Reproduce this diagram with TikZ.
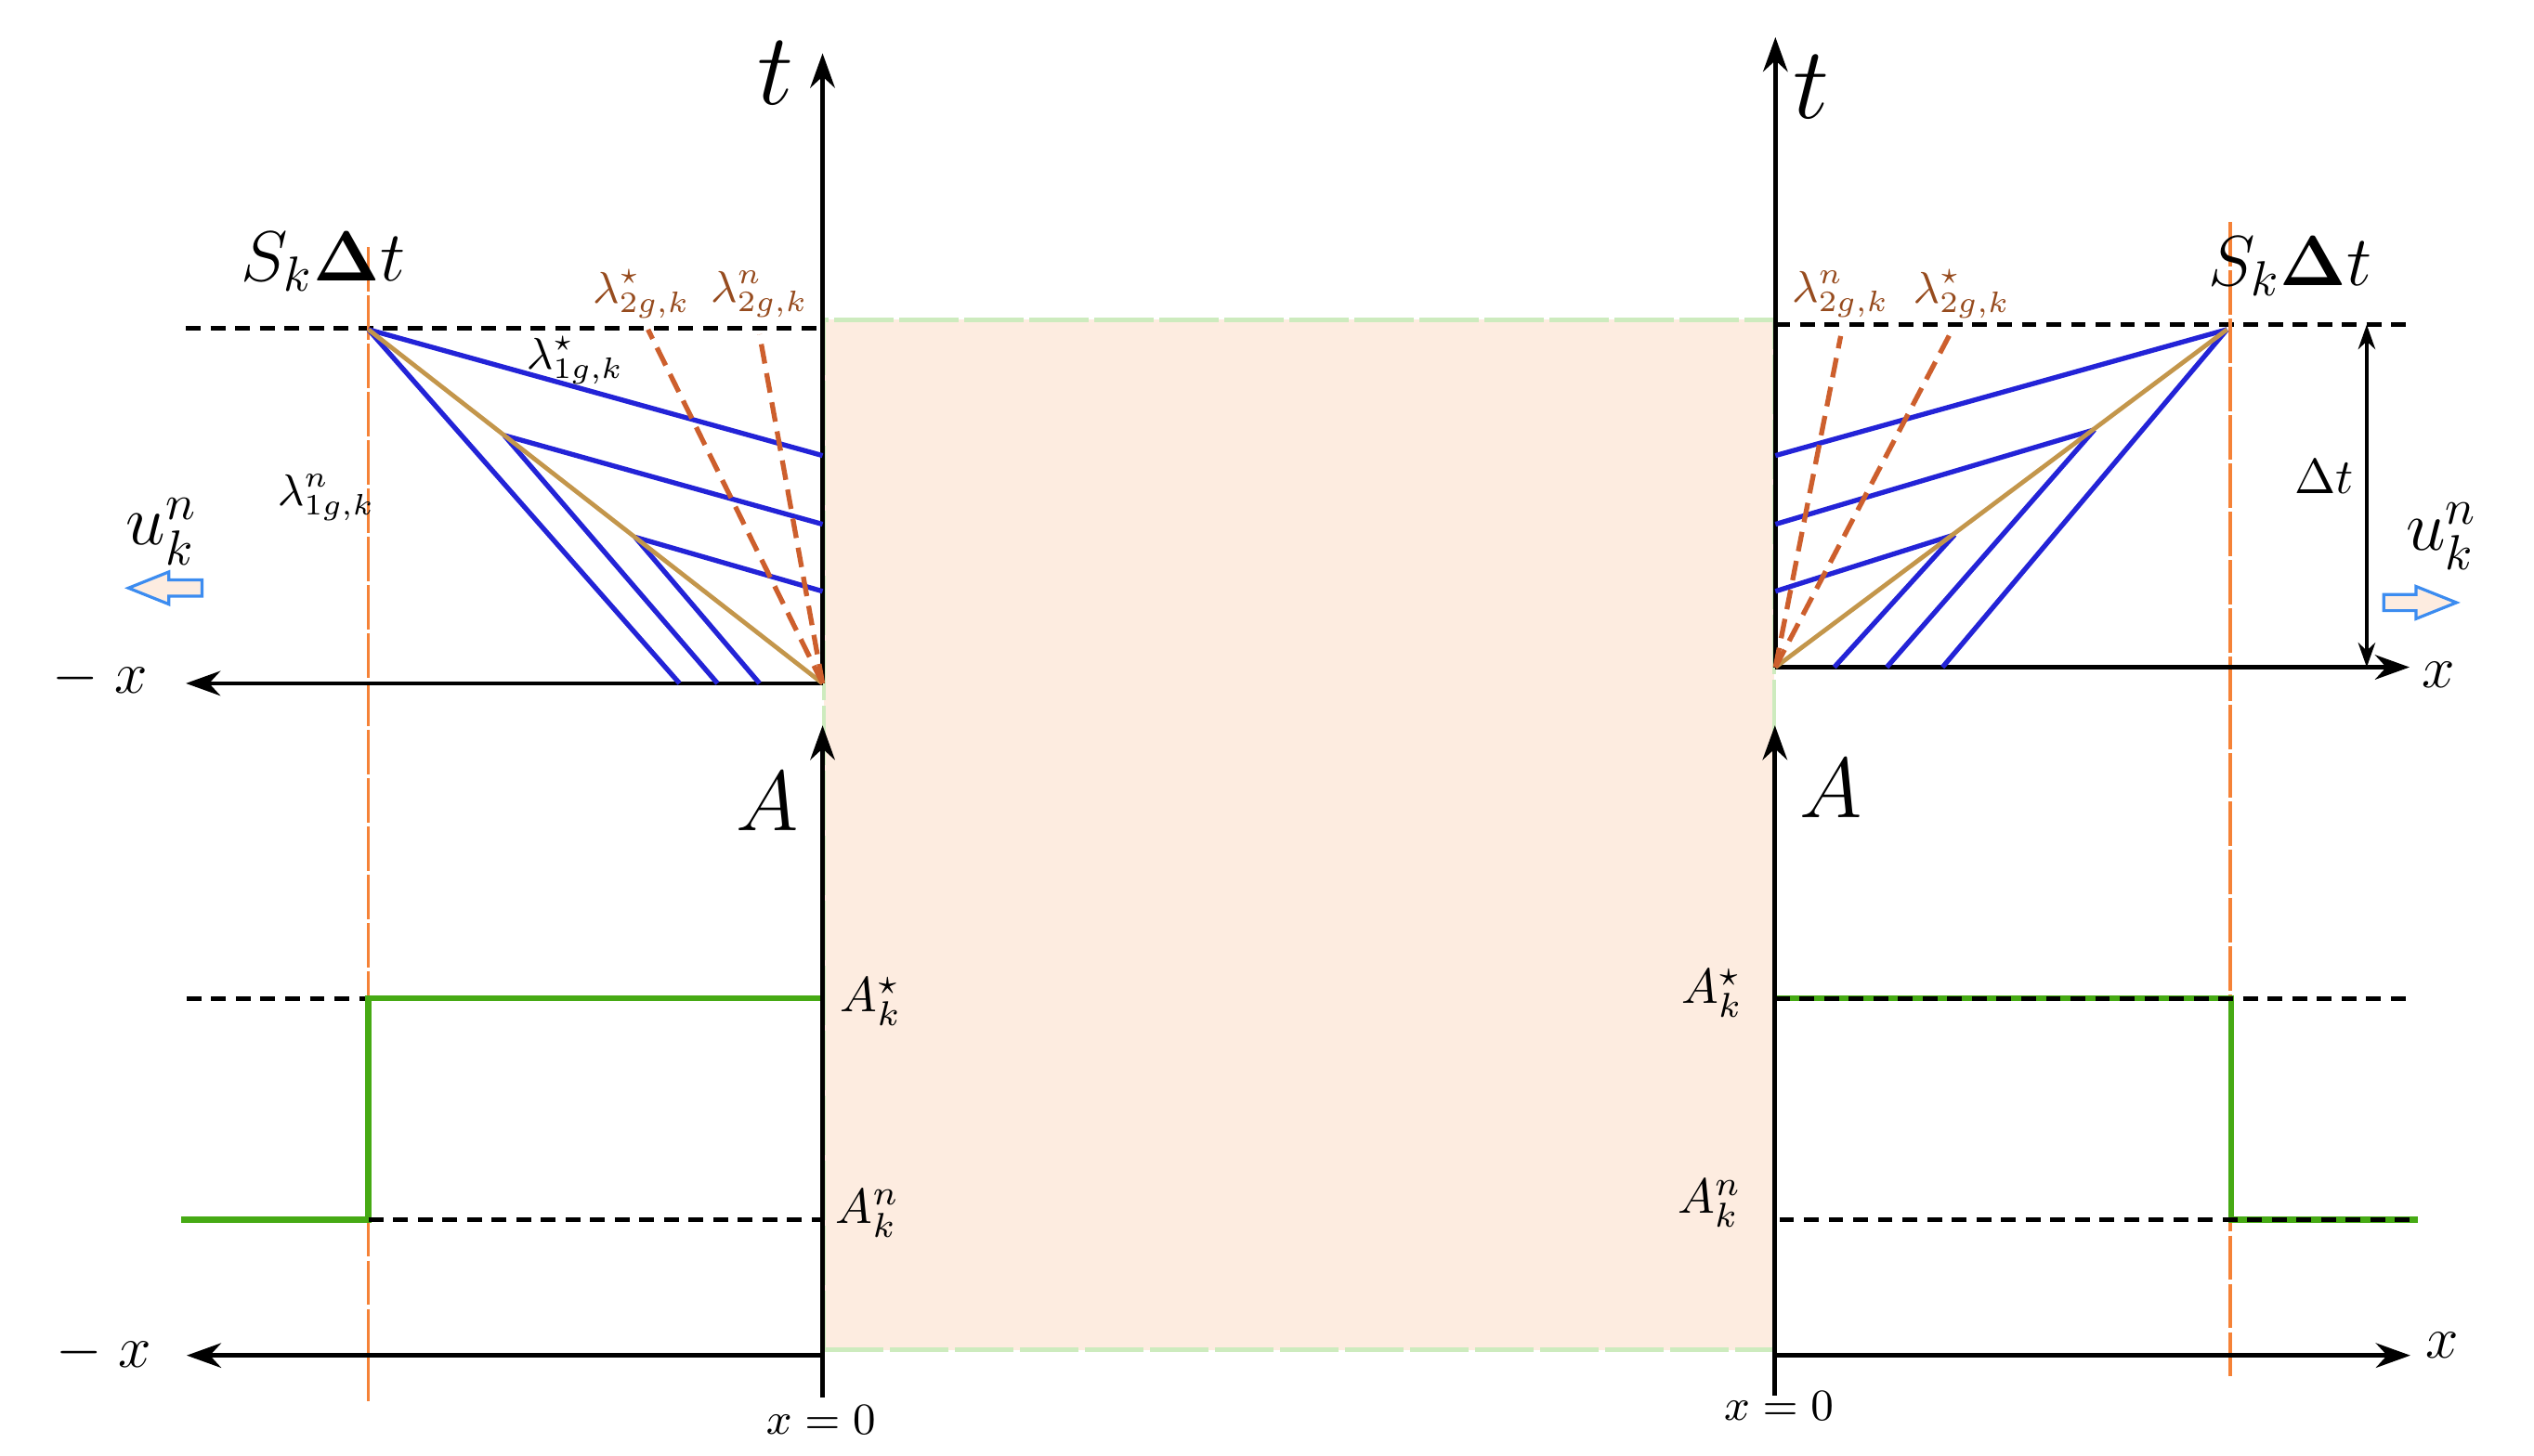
\documentclass[tikz,border=0pt]{standalone}
\usepackage{amsmath}
\usetikzlibrary{arrows.meta}
\definecolor{fanblue}{RGB}{35,35,215}
\definecolor{fantan}{RGB}{195,150,75}
\definecolor{waveorange}{RGB}{205,95,45}
\definecolor{lblbrown}{RGB}{150,75,30}
\definecolor{shockorange}{RGB}{245,130,55}
\definecolor{levelgreen}{RGB}{70,170,20}
\definecolor{cellfill}{RGB}{253,236,224}
\definecolor{cellborder}{RGB}{205,235,190}
\definecolor{flowblue}{RGB}{60,140,240}
\tikzset{axis/.style={line width=0.9pt,-{Stealth[length=7pt,width=5pt]}}}
\tikzset{level/.style={line width=1pt,dash pattern=on 3pt off 2pt}}
\tikzset{shock/.style={shockorange,line width=0.6pt,dash pattern=on 9pt off 0.8pt}}
\tikzset{charone/.style={fanblue,line width=1pt}}
\tikzset{fanedge/.style={fantan,line width=0.9pt}}
\tikzset{chartwo/.style={waveorange,line width=1pt,dash pattern=on 4pt off 2pt}}
\tikzset{stepline/.style={levelgreen,line width=1.2pt}}
\tikzset{flow/.style={draw=flowblue,fill=cellfill,line width=0.6pt}}
\tikzset{lbl/.style={inner sep=0.5pt}}

\begin{document}
\begin{tikzpicture}[x=1.153mm,y=1.153mm]
  \useasboundingbox (0,0) rectangle (156.8,90.1);
  \fill[cellfill] (51.0,6.55) rectangle (109.8,70.3);
  \draw[cellborder,line width=0.8pt,dash pattern=on 12pt off 1.2pt] (51.0,6.55) rectangle (109.8,70.3);
  \coordinate (oL) at (50.9,47.8);
  \coordinate (tL) at (50.9,86.8);
  \coordinate (xL) at (11.5,47.8);
  \coordinate (hL) at (11.5,69.8);
  \coordinate (hL0) at (50.9,69.8);
  \coordinate (pL) at (22.8,69.7);
  \coordinate (qL) at (31.2,63.15);
  \coordinate (rL) at (39.3,56.85);
  \coordinate (a1L) at (50.9,61.9);
  \coordinate (a2L) at (50.9,57.65);
  \coordinate (a3L) at (50.9,53.5);
  \coordinate (b1L) at (42.05,47.8);
  \coordinate (b2L) at (44.4,47.8);
  \coordinate (b3L) at (47.0,47.8);
  \coordinate (sL) at (40.1,69.7);
  \coordinate (nL) at (47.0,69.4);
  \coordinate (kL0) at (22.8,74.8);
  \coordinate (kL1) at (22.8,3.3);
  \coordinate (oR) at (109.86,48.8);
  \coordinate (tR) at (109.86,87.8);
  \coordinate (xR) at (149.1,48.8);
  \coordinate (hR0) at (109.86,70.0);
  \coordinate (hR) at (149.4,70.0);
  \coordinate (pR) at (137.8,69.7);
  \coordinate (qR) at (129.6,63.5);
  \coordinate (rR) at (120.95,57.0);
  \coordinate (a1R) at (109.86,61.9);
  \coordinate (a2R) at (109.86,57.65);
  \coordinate (a3R) at (109.86,53.5);
  \coordinate (b1R) at (120.2,48.8);
  \coordinate (b2R) at (116.75,48.8);
  \coordinate (b3R) at (113.5,48.8);
  \coordinate (nR) at (113.9,69.3);
  \coordinate (sR) at (120.65,69.4);
  \coordinate (kR0) at (138.0,76.35);
  \coordinate (kR1) at (138.0,4.9);
  \coordinate (dA) at (146.45,70.0);
  \coordinate (dB) at (146.45,48.8);
  \coordinate (aL0) at (50.9,3.6);
  \coordinate (aL1) at (50.9,45.2);
  \coordinate (gL) at (50.9,6.2);
  \coordinate (gL1) at (11.55,6.2);
  \coordinate (sLa) at (11.55,28.3);
  \coordinate (sLb) at (22.8,28.3);
  \coordinate (sLc) at (50.9,28.3);
  \coordinate (nLa) at (11.2,14.6);
  \coordinate (nLb) at (22.8,14.6);
  \coordinate (nLc) at (50.9,14.6);
  \coordinate (aR0) at (109.83,3.7);
  \coordinate (aR1) at (109.83,45.2);
  \coordinate (gR) at (109.83,6.2);
  \coordinate (gR1) at (149.15,6.2);
  \coordinate (sRa) at (109.83,28.3);
  \coordinate (sRb) at (138.05,28.3);
  \coordinate (sRc) at (149.15,28.3);
  \coordinate (nRa) at (110.1,14.6);
  \coordinate (nRb) at (138.05,14.6);
  \coordinate (nRc) at (149.6,14.6);
  \draw[level] (hL) -- (hL0);
  \draw[level] (hR0) -- (hR);
  \draw[shock] (kL0) -- (kL1);
  \draw[shock] (kR0) -- (kR1);
  \draw[axis] (oL) -- (tL);
  \draw[axis] (oL) -- (xL);
  \draw[axis] (oR) -- (tR);
  \draw[axis] (oR) -- (xR);
  \draw[charone] (pL) -- (a1L);
  \draw[charone] (qL) -- (a2L);
  \draw[charone] (rL) -- (a3L);
  \draw[charone] (pL) -- (b1L);
  \draw[charone] (qL) -- (b2L);
  \draw[charone] (rL) -- (b3L);
  \draw[fanedge] (pL) -- (oL);
  \draw[chartwo] (oL) -- (sL);
  \draw[chartwo] (oL) -- (nL);
  \draw[charone] (pR) -- (a1R);
  \draw[charone] (qR) -- (a2R);
  \draw[charone] (rR) -- (a3R);
  \draw[charone] (pR) -- (b1R);
  \draw[charone] (qR) -- (b2R);
  \draw[charone] (rR) -- (b3R);
  \draw[fanedge] (pR) -- (oR);
  \draw[chartwo] (oR) -- (nR);
  \draw[chartwo] (oR) -- (sR);
  \draw[line width=0.6pt,{Stealth[length=5pt,width=3.5pt]}-{Stealth[length=5pt,width=3.5pt]}] (dA) -- (dB);
  \draw[flow] (7.95,53.7) -- (10.45,54.7) -- (10.45,54.2) -- (12.5,54.2) -- (12.5,53.2) -- (10.45,53.2) -- (10.45,52.7) -- cycle;
  \draw[flow] (152.0,52.8) -- (149.5,53.8) -- (149.5,53.3) -- (147.5,53.3) -- (147.5,52.3) -- (149.5,52.3) -- (149.5,51.8) -- cycle;
  \draw[level] (sLa) -- (sLc);
  \draw[stepline] (nLa) -- (nLb) -- (sLb) -- (sLc);
  \draw[level] (nLb) -- (nLc);
  \draw[stepline] (sRa) -- (sRb) -- (nRb) -- (nRc);
  \draw[level] (sRa) -- (sRc);
  \draw[level] (nRa) -- (nRc);
  \draw[axis] (aL0) -- (aL1);
  \draw[axis] (gL) -- (gL1);
  \draw[axis] (aR0) -- (aR1);
  \draw[axis] (gR) -- (gR1);
  \node[lbl,font=\huge] (tLlbl) at (48.0,85.6) {$t$};
  \node[lbl,font=\huge] (tRlbl) at (112.1,84.7) {$t$};
  \node[lbl,font=\Large] (skL) at (20.0,73.9) {$S_k\mathbf{\Delta}t$};
  \node[lbl,font=\Large] (skR) at (141.7,73.6) {$S_k\mathbf{\Delta}t$};
  \node[lbl,font=\small,text=lblbrown] (lsL) at (39.7,71.9) {$\lambda^\star_{2g,k}$};
  \node[lbl,font=\small,text=lblbrown] (lnL) at (47.0,71.9) {$\lambda^n_{2g,k}$};
  \node[lbl,font=\small,text=lblbrown] (lnR) at (113.9,71.9) {$\lambda^n_{2g,k}$};
  \node[lbl,font=\small,text=lblbrown] (lsR) at (121.4,71.9) {$\lambda^\star_{2g,k}$};
  \node[lbl,font=\small] (loneS) at (35.6,67.8) {$\lambda^\star_{1g,k}$};
  \node[lbl,font=\small] (loneN) at (20.2,59.3) {$\lambda^n_{1g,k}$};
  \node[lbl,font=\Large] (uL) at (10.0,57.2) {$u^n_k$};
  \node[lbl,font=\Large] (uR) at (151.1,56.9) {$u^n_k$};
  \node[lbl] (dt) at (143.8,60.6) {$\Delta t$};
  \node[lbl,font=\large] (mxU) at (6.2,48.1) {$-\;x$};
  \node[lbl,font=\large] (xU) at (150.9,48.3) {$x$};
  \node[lbl,font=\LARGE] (aLlbl) at (47.5,40.5) {$A$};
  \node[lbl,font=\LARGE] (aRlbl) at (113.3,41.3) {$A$};
  \node[lbl] (asL) at (53.9,28.1) {$A^\star_k$};
  \node[lbl] (anL) at (53.7,15.0) {$A^n_k$};
  \node[lbl] (asR) at (105.95,28.6) {$A^\star_k$};
  \node[lbl] (anR) at (105.8,15.6) {$A^n_k$};
  \node[lbl,font=\large] (mxB) at (6.4,6.4) {$-\;x$};
  \node[lbl,font=\large] (xB) at (151.1,6.8) {$x$};
  \node[lbl,font=\small] (zL) at (50.8,2.2) {$x=0$};
  \node[lbl,font=\small] (zR) at (110.07,3.1) {$x=0$};
\end{tikzpicture}
\end{document}
